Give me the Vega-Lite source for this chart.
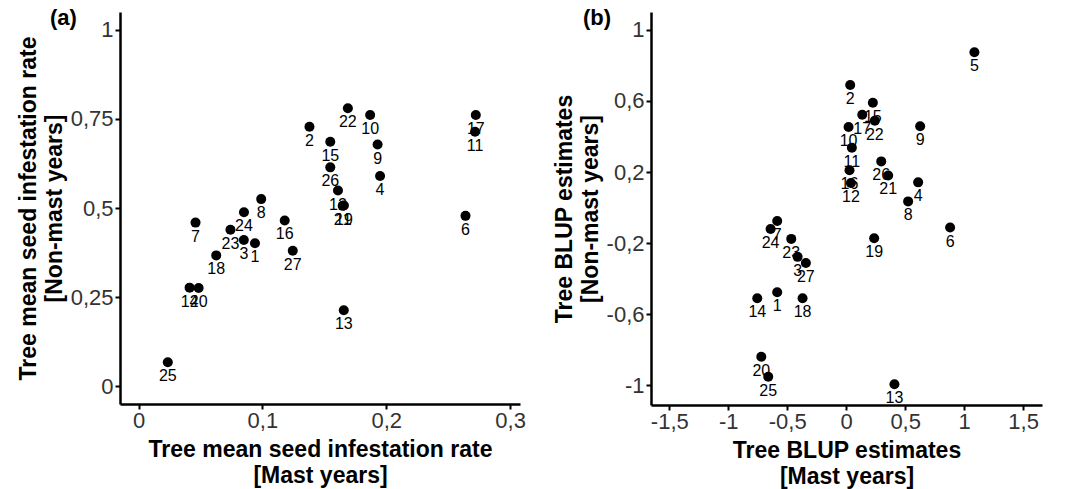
{
  "$schema": "https://vega.github.io/schema/vega-lite/v6.json",
  "background": "white",
  "padding": {"left": 17, "top": 7, "right": 5, "bottom": 2},
  "config": {
    "font": "Liberation Sans",
    "view": {"stroke": null},
    "axis": {
      "grid": false,
      "domainColor": "black",
      "domainWidth": 2.5,
      "tickColor": "black",
      "tickWidth": 2,
      "tickSize": 5,
      "labelFontSize": 22,
      "labelColor": "#333333",
      "labelFont": "Liberation Sans",
      "titleFont": "Liberation Sans",
      "titleFontSize": 23,
      "titleFontWeight": "bold",
      "titleColor": "black",
      "labelPadding": 2,
      "titlePadding": 4,
      "titleLineHeight": 26
    },
    "axisX": {"labelPadding": 1, "titlePadding": 7},
    "title": {"fontSize": 22, "fontWeight": "bold", "font": "Liberation Sans", "color": "black"}
  },
  "datasets": {
    "a": [
      {"id": "1", "mast": 0.094, "nonmast": 0.401},
      {"id": "2", "mast": 0.138, "nonmast": 0.728},
      {"id": "3", "mast": 0.085, "nonmast": 0.410},
      {"id": "4", "mast": 0.195, "nonmast": 0.590},
      {"id": "6", "mast": 0.264, "nonmast": 0.478},
      {"id": "7", "mast": 0.046, "nonmast": 0.459},
      {"id": "8", "mast": 0.099, "nonmast": 0.525},
      {"id": "9", "mast": 0.193, "nonmast": 0.678},
      {"id": "10", "mast": 0.187, "nonmast": 0.761},
      {"id": "11", "mast": 0.2717, "nonmast": 0.714},
      {"id": "12", "mast": 0.161, "nonmast": 0.549},
      {"id": "13", "mast": 0.1657, "nonmast": 0.213},
      {"id": "14", "mast": 0.0412, "nonmast": 0.2765},
      {"id": "15", "mast": 0.1548, "nonmast": 0.686},
      {"id": "16", "mast": 0.118, "nonmast": 0.465},
      {"id": "17", "mast": 0.2723, "nonmast": 0.761},
      {"id": "18", "mast": 0.0627, "nonmast": 0.367},
      {"id": "19", "mast": 0.1658, "nonmast": 0.507},
      {"id": "20", "mast": 0.0485, "nonmast": 0.2756},
      {"id": "21", "mast": 0.1648, "nonmast": 0.506},
      {"id": "22", "mast": 0.169, "nonmast": 0.780},
      {"id": "23", "mast": 0.0742, "nonmast": 0.439},
      {"id": "24", "mast": 0.0851, "nonmast": 0.488},
      {"id": "25", "mast": 0.0236, "nonmast": 0.067},
      {"id": "26", "mast": 0.1548, "nonmast": 0.614},
      {"id": "27", "mast": 0.1245, "nonmast": 0.380}
    ],
    "b": [
      {"id": "1", "mast": -0.585, "nonmast": -0.476},
      {"id": "2", "mast": 0.034, "nonmast": 0.689},
      {"id": "3", "mast": -0.412, "nonmast": -0.277},
      {"id": "4", "mast": 0.610, "nonmast": 0.142},
      {"id": "5", "mast": 1.087, "nonmast": 0.874},
      {"id": "6", "mast": 0.881, "nonmast": -0.112},
      {"id": "7", "mast": -0.585, "nonmast": -0.075},
      {"id": "8", "mast": 0.525, "nonmast": 0.035},
      {"id": "9", "mast": 0.627, "nonmast": 0.458},
      {"id": "10", "mast": 0.020, "nonmast": 0.453},
      {"id": "11", "mast": 0.048, "nonmast": 0.337},
      {"id": "12", "mast": 0.040, "nonmast": 0.138},
      {"id": "13", "mast": 0.409, "nonmast": -0.993},
      {"id": "14", "mast": -0.754, "nonmast": -0.510},
      {"id": "15", "mast": 0.226, "nonmast": 0.590},
      {"id": "16", "mast": 0.028, "nonmast": 0.210},
      {"id": "17", "mast": 0.136, "nonmast": 0.522},
      {"id": "18", "mast": -0.370, "nonmast": -0.510},
      {"id": "19", "mast": 0.237, "nonmast": -0.172},
      {"id": "20", "mast": -0.720, "nonmast": -0.839},
      {"id": "21", "mast": 0.356, "nonmast": 0.181},
      {"id": "22", "mast": 0.243, "nonmast": 0.489},
      {"id": "23", "mast": -0.466, "nonmast": -0.176},
      {"id": "24", "mast": -0.641, "nonmast": -0.120},
      {"id": "25", "mast": -0.661, "nonmast": -0.951},
      {"id": "26", "mast": 0.297, "nonmast": 0.260},
      {"id": "27", "mast": -0.342, "nonmast": -0.311}
    ]
  },
  "hconcat": [
    {
      "width": 400,
      "height": 392,
      "title": {"text": "(a)", "anchor": "start", "frame": "group", "offset": -18, "dx": -70},
      "data": {"name": "a"},
      "encoding": {
        "x": {
          "field": "mast", "type": "quantitative",
          "scale": {"domain": [-0.015, 0.308], "nice": false, "zero": false},
          "axis": {
            "values": [0, 0.1, 0.2, 0.3],
            "labelExpr": "replace(toString(datum.value), '.', ',')",
            "title": ["Tree mean seed infestation rate", "[Mast years]"]
          }
        },
        "y": {
          "field": "nonmast", "type": "quantitative",
          "scale": {"domain": [-0.05, 1.05], "nice": false, "zero": false},
          "axis": {
            "values": [0, 0.25, 0.5, 0.75, 1],
            "labelExpr": "replace(toString(datum.value), '.', ',')",
            "title": ["Tree mean seed infestation rate", "[Non-mast years]"]
          }
        }
      },
      "layer": [
        {"mark": {"type": "circle", "size": 100, "color": "black", "opacity": 1}},
        {"mark": {"type": "text", "dy": 14, "fontSize": 16, "color": "black", "baseline": "middle"},
         "encoding": {"text": {"field": "id"}}}
      ]
    },
    {
      "width": 391,
      "height": 393,
      "title": {"text": "(b)", "anchor": "start", "frame": "group", "offset": -18, "dx": -68},
      "data": {"name": "b"},
      "encoding": {
        "x": {
          "field": "mast", "type": "quantitative",
          "scale": {"domain": [-1.655, 1.66], "nice": false, "zero": false},
          "axis": {
            "values": [-1.5, -1, -0.5, 0, 0.5, 1, 1.5],
            "labelExpr": "replace(toString(datum.value), '.', ',')",
            "title": ["Tree BLUP estimates", "[Mast years]"]
          }
        },
        "y": {
          "field": "nonmast", "type": "quantitative",
          "scale": {"domain": [-1.11, 1.10], "nice": false, "zero": false},
          "axis": {
            "values": [-1, -0.6, -0.2, 0.2, 0.6, 1],
            "labelExpr": "replace(toString(datum.value), '.', ',')",
            "title": ["Tree BLUP estimates", "[Non-mast years]"]
          }
        }
      },
      "layer": [
        {"mark": {"type": "circle", "size": 100, "color": "black", "opacity": 1}},
        {"mark": {"type": "text", "dy": 14, "fontSize": 16, "color": "black", "baseline": "middle"},
         "encoding": {"text": {"field": "id"}}}
      ]
    }
  ],
  "spacing": 27
}
